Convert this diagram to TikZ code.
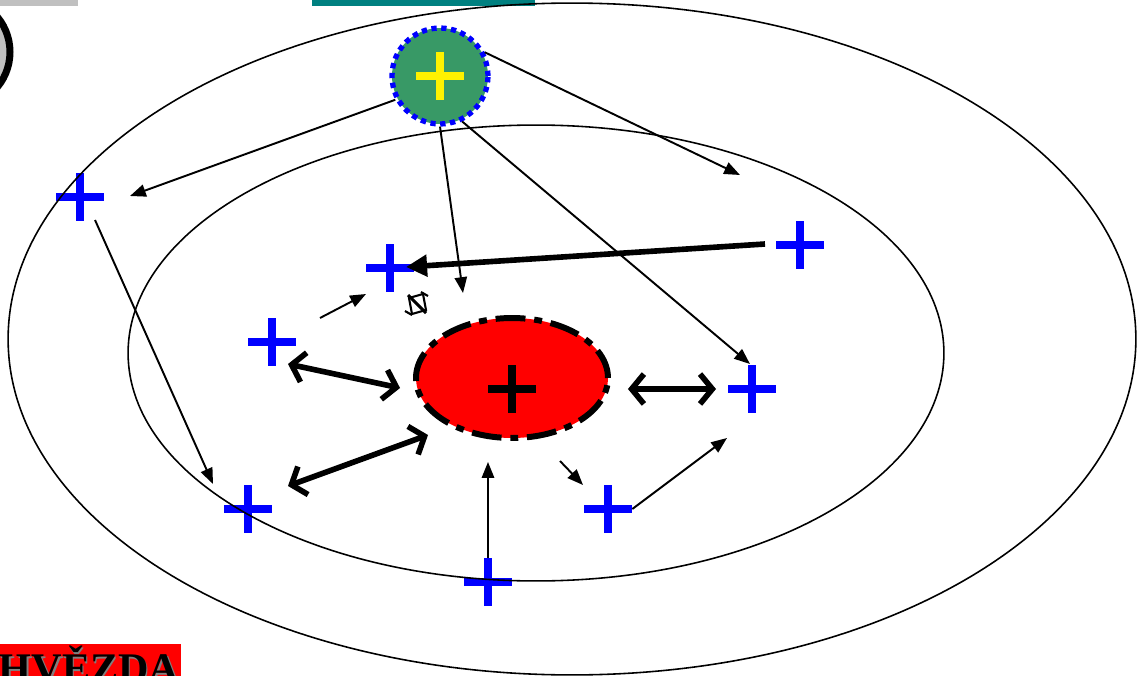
\documentclass[tikz,border=0pt]{standalone}
\usepackage{fontspec}
\setmainfont{Liberation Serif}
\usetikzlibrary{arrows.meta,shapes.geometric,calc}
\definecolor{tealbar}{RGB}{0,128,128}
\definecolor{greybar}{RGB}{192,192,192}
\definecolor{seagr}{RGB}{56,153,102}
\begin{document}
\begin{tikzpicture}[x=0.02cm,y=-0.02cm,
  thinarrow/.style={line width=1.1pt,-{Triangle[length=9pt,width=7pt]}},
  thickarrow/.style={line width=3.2pt,-{Triangle[length=12pt,width=12pt]}},
  dblarrow/.style={line width=3.2pt,{Straight Barb[length=7pt,width=17pt]}-{Straight Barb[length=7pt,width=17pt]}},
  plusmark/.style={rectangle,inner sep=0pt,minimum size=0.96cm,
    path picture={\draw[#1,line width=4.5pt]
      (path picture bounding box.west)--(path picture bounding box.east)
      (path picture bounding box.north)--(path picture bounding box.south);}},
  bplus/.style={plusmark=blue},
  orbit/.style={line width=0.9pt},
  greenion/.style={circle,fill=seagr,draw=blue,line width=3pt,
    dash pattern=on 3pt off 2.6pt,minimum size=1.92cm,inner sep=0pt},
  redcore/.style={ellipse,fill=red,draw=black,line width=3.4pt,
    dash pattern=on 17pt off 5pt on 4.5pt off 5pt,
    minimum width=3.84cm,minimum height=2.4cm,inner sep=0pt},
  lbltext/.style={anchor=base west,inner sep=0pt,font=\fontsize{24}{24}\selectfont\bfseries}
]
\useasboundingbox (0,0) rectangle (1137,676);

% top bars and corner ring
\fill[greybar] (0,0) rectangle (78,6);
\fill[tealbar] (312,0) rectangle (535,6);
\draw[line width=4pt,fill=greybar] (-45,52) circle [radius=1.1cm];

% nodes
\node[greenion] (g) at (440,76) {};
\node[plusmark=yellow] (gy) at (440,76) {};
\node[redcore] (r) at (512,378) {};
\node[plusmark=black] (rk) at (512,389) {};

\node[bplus] (p1) at (80,197) {};
\node[bplus] (p2) at (390,268) {};
\node[bplus] (p3) at (800,245) {};
\node[bplus] (p4) at (272,342) {};
\node[bplus] (p5) at (752,389) {};
\node[bplus] (p6) at (248,509) {};
\node[bplus] (p7) at (608,509) {};
\node[bplus] (p8) at (488,582) {};

% orbits
\draw[orbit] (572,339) ellipse [x radius=11.28cm, y radius=6.72cm];
\draw[orbit] (536,353) ellipse [x radius=8.16cm, y radius=4.56cm];

% free ends
\coordinate (c1) at (740,175);
\coordinate (c2) at (463,293);

% arrows from the green ion
\draw[thinarrow] (g.208) -- ($(p1)+(50,-1)$);
\draw[thinarrow] (g.28) -- (c1);
\draw[thinarrow] (g.south) -- (c2);
\draw[thinarrow] (g.-64) -- ($(p5)+(-2,-25)$);

% other arrows
\draw[thinarrow] ($(p1)+(15,23)$) -- ($(p6)+(-35,-25)$);
\draw[thickarrow] ($(p3)+(-35,-1)$) -- ($(p2)+(16,-1)$);
\draw[thinarrow] ($(p4)+(48,-24)$) -- ($(p2)+(-24,26)$);
\draw[dblarrow] ($(p4)+(16,22)$) -- ($(r.west)+(-13,10)$);
\draw[dblarrow] ($(r.east)+(17,11)$) -- ($(p5)+(-36,0)$);
\draw[dblarrow] ($(p6)+(40,-23)$) -- ($(r)+(-84,57)$);
\draw[thinarrow] (p8.north) -- ($(p8)+(0,-120)$);
\draw[thinarrow] ($(p7)+(-48,-48)$) -- ($(p7)+(-25,-24)$);
\draw[thinarrow] (p7.east) -- ($(p5)+(-25,49)$);

% small glyph
\coordinate (gl) at (417,304);
\begin{scope}[shift={(gl)},line width=1.2pt]
  \draw (-8,-6) -- (6,-10) -- (9,6) -- (-5,10) -- cycle;
  \draw[line width=1.8pt] (-9,-9) -- (9,9);
  \draw (4,-12) -- (11,-8);
  \draw (-12,7) -- (-5,11);
\end{scope}

% label
\fill[red] (0,644) rectangle (181,676);
\node[lbltext,text=gray] (lblsh) at (0,684) {HVĚZDA};
\node[lbltext,text=black] (lbl) at (-1.5,682.5) {HVĚZDA};
\end{tikzpicture}
\end{document}
